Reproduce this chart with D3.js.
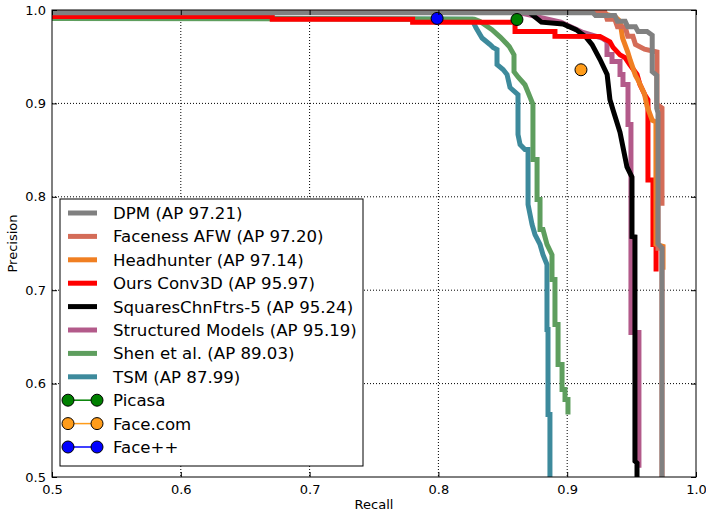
<!DOCTYPE html>
<html>
<head>
<meta charset="utf-8">
<script src="https://cdn.jsdelivr.net/npm/d3@7"></script>
<style>
  body { margin: 0; background: #fff; }
  text { font-family: "DejaVu Sans", sans-serif; }
</style>
</head>
<body>
<div id="chart"></div>
<script>
// chart size
var svgWidth = 706;
var svgHeight = 513;

var margin = { top: 10, right: 10, bottom: 36, left: 52 };
var chartWidth = svgWidth - margin.left - margin.right;
var chartHeight = svgHeight - margin.top - margin.bottom;

// series (recall / precision)
var seriesNames = ["DPM (AP 97.21)", "Faceness AFW (AP 97.20)", "Headhunter (AP 97.14)", "Ours Conv3D (AP 95.97)",
  "SquaresChnFtrs-5 (AP 95.24)", "Structured Models (AP 95.19)", "Shen et al. (AP 89.03)", "TSM (AP 87.99)"];
var seriesColors = ["#808080", "#d46c58", "#f07f22", "#ff0000", "#000000", "#b35a8a", "#5e9e5e", "#3d8a9c"];

var dpmRecall = [0.5, 0.92, 0.922, 0.937, 0.939, 0.945, 0.947, 0.953, 0.955, 0.962, 0.966, 0.966, 0.9695, 0.9695, 0.9705, 0.9705, 0.9736, 0.9736];
var dpmPrecision = [0.997, 0.997, 0.994, 0.994, 0.988, 0.988, 0.982, 0.982, 0.977, 0.977, 0.973, 0.934, 0.93, 0.895, 0.89, 0.75, 0.745, 0.5];

var facenessRecall = [0.5, 0.929, 0.931, 0.937, 0.939, 0.945, 0.947, 0.951, 0.953, 0.96, 0.9697, 0.9697, 0.9736, 0.9736, 0.9705, 0.9705, 0.9736, 0.9736];
var facenessPrecision = [0.999, 0.999, 0.99, 0.99, 0.982, 0.982, 0.972, 0.972, 0.963, 0.958, 0.955, 0.899, 0.895, 0.793, 0.793, 0.745, 0.745, 0.5];

var headhunterRecall = [0.5, 0.925, 0.931, 0.937, 0.941, 0.943, 0.947, 0.949, 0.953, 0.955, 0.96, 0.962, 0.966, 0.9689, 0.9689, 0.9744, 0.9744];
var headhunterPrecision = [0.999, 0.999, 0.995, 0.993, 0.988, 0.97, 0.955, 0.946, 0.93, 0.925, 0.91, 0.897, 0.882, 0.88, 0.749, 0.747, 0.722];

var oursRecall = [0.5, 0.671, 0.671, 0.78, 0.78, 0.8595, 0.8595, 0.8905, 0.8905, 0.9255, 0.9332, 0.9356, 0.941, 0.9449, 0.9488, 0.9542, 0.9565, 0.9604, 0.9627, 0.9627, 0.9666, 0.9666, 0.969, 0.969];
var oursPrecision = [0.993, 0.993, 0.99, 0.99, 0.987, 0.987, 0.977, 0.977, 0.972, 0.9716, 0.966, 0.96, 0.952, 0.949, 0.941, 0.931, 0.92, 0.909, 0.904, 0.818, 0.818, 0.749, 0.749, 0.72];

var squaresRecall = [0.5, 0.87, 0.88, 0.8967, 0.9068, 0.9146, 0.9193, 0.9255, 0.931, 0.9332, 0.9356, 0.941, 0.9464, 0.9503, 0.9503, 0.9526, 0.9526, 0.9542, 0.9542];
var squaresPrecision = [0.998, 0.998, 0.987, 0.985, 0.979, 0.971, 0.963, 0.947, 0.931, 0.904, 0.893, 0.869, 0.832, 0.821, 0.7575, 0.757, 0.517, 0.515, 0.5];

var structuredRecall = [0.5, 0.86, 0.895, 0.9123, 0.927, 0.9309, 0.9309, 0.9348, 0.9348, 0.941, 0.941, 0.9433, 0.9433, 0.9472, 0.9472, 0.9495, 0.9495, 0.9557, 0.9557];
var structuredPrecision = [0.998, 0.998, 0.987, 0.976, 0.97, 0.9663, 0.9524, 0.9524, 0.9449, 0.9449, 0.9309, 0.9309, 0.9202, 0.9202, 0.8774, 0.8774, 0.6547, 0.6547, 0.51];

var shenRecall = [0.5, 0.828, 0.8323, 0.8416, 0.848, 0.855, 0.8587, 0.8587, 0.862, 0.8672, 0.8696, 0.8734, 0.8734, 0.8766, 0.8766, 0.8789, 0.8789, 0.8812, 0.8843, 0.8882, 0.8882, 0.8905, 0.8905, 0.8929, 0.8929, 0.896, 0.896, 0.8983, 0.8983, 0.9006, 0.9006];
var shenPrecision = [0.991, 0.99, 0.9877, 0.979, 0.971, 0.961, 0.952, 0.934, 0.928, 0.92, 0.912, 0.899, 0.84, 0.84, 0.797, 0.797, 0.765, 0.765, 0.749, 0.738, 0.7115, 0.7115, 0.6632, 0.6632, 0.6204, 0.6204, 0.5937, 0.5937, 0.5829, 0.5829, 0.5669];

var tsmRecall = [0.5, 0.826, 0.8292, 0.8339, 0.84, 0.8424, 0.8455, 0.8455, 0.8502, 0.8533, 0.8556, 0.8618, 0.8618, 0.8634, 0.8672, 0.8696, 0.8696, 0.8727, 0.875, 0.8789, 0.8812, 0.8843, 0.8843, 0.8851, 0.8851, 0.8866, 0.8866];
var tsmPrecision = [0.992, 0.99, 0.981, 0.97, 0.9631, 0.96, 0.9577, 0.9416, 0.9363, 0.9309, 0.917, 0.9095, 0.8667, 0.856, 0.8506, 0.8506, 0.7918, 0.7704, 0.7596, 0.749, 0.738, 0.7275, 0.6579, 0.6579, 0.5669, 0.5669, 0.5];

// single-point detectors
var pointNames = ["Picasa", "Face.com", "Face++"];
var pointColors = ["#008000", "#ff9c1a", "#0000ff"];
var pointRecall = [0.861, 0.9107, 0.799];
var pointPrecision = [0.9898, 0.936, 0.991];

var xTicks = [0.5, 0.6, 0.7, 0.8, 0.9, 1.0];
var yTicks = [0.5, 0.6, 0.7, 0.8, 0.9, 1.0];

var allRecall = [dpmRecall, facenessRecall, headhunterRecall, oursRecall, squaresRecall, structuredRecall, shenRecall, tsmRecall];
var allPrecision = [dpmPrecision, facenessPrecision, headhunterPrecision, oursPrecision, squaresPrecision, structuredPrecision, shenPrecision, tsmPrecision];

var svg = d3.select("#chart")
  .append("svg")
  .attr("width", svgWidth)
  .attr("height", svgHeight);

var chartGroup = svg.append("g")
  .attr("transform", `translate(${margin.left}, ${margin.top})`);

var xScale = d3.scaleLinear().domain([0.5, 1.0]).range([0, chartWidth]);
var yScale = d3.scaleLinear().domain([0.5, 1.0]).range([chartHeight, 0]);

// grid
chartGroup.append("g")
  .selectAll("line")
  .data(xTicks.slice(1, -1))
  .enter()
  .append("line")
  .attr("x1", d => xScale(d)).attr("x2", d => xScale(d))
  .attr("y1", 0).attr("y2", chartHeight)
  .attr("stroke", "#000").attr("stroke-width", 1).attr("stroke-dasharray", "1,2");

chartGroup.append("g")
  .selectAll("line")
  .data(yTicks.slice(1, -1))
  .enter()
  .append("line")
  .attr("y1", d => yScale(d)).attr("y2", d => yScale(d))
  .attr("x1", 0).attr("x2", chartWidth)
  .attr("stroke", "#000").attr("stroke-width", 1).attr("stroke-dasharray", "1,2");

// clip for the curves
svg.append("defs").append("clipPath").attr("id", "plotClip")
  .append("rect").attr("width", chartWidth).attr("height", chartHeight);

var line = d3.line().x(d => xScale(d[0])).y(d => yScale(d[1]));

var curves = chartGroup.append("g").attr("clip-path", "url(#plotClip)");

// draw last series first so DPM ends on top
for (var i = seriesNames.length - 1; i >= 0; i--) {
  var pts = allRecall[i].map((r, j) => [r, allPrecision[i][j]]);
  curves.append("path")
    .datum(pts)
    .attr("d", line)
    .attr("fill", "none")
    .attr("stroke", seriesColors[i])
    .attr("stroke-width", 5)
    .attr("stroke-linejoin", "miter");
}

curves.selectAll("circle")
  .data(pointNames)
  .enter()
  .append("circle")
  .attr("cx", (d, i) => xScale(pointRecall[i]))
  .attr("cy", (d, i) => yScale(pointPrecision[i]))
  .attr("r", 6)
  .attr("fill", (d, i) => pointColors[i])
  .attr("stroke", "#000")
  .attr("stroke-width", 1);

// axes
var xAxis = d3.axisBottom(xScale).tickValues(xTicks).tickFormat(d3.format(".1f")).tickSize(-5).tickPadding(8);
var yAxis = d3.axisLeft(yScale).tickValues(yTicks).tickFormat(d3.format(".1f")).tickSize(-5).tickPadding(6);

var xg = chartGroup.append("g").attr("transform", `translate(0, ${chartHeight})`).call(xAxis);
var yg = chartGroup.append("g").call(yAxis);
chartGroup.append("g").call(d3.axisTop(xScale).tickValues(xTicks).tickFormat("").tickSize(-5));
chartGroup.append("g").attr("transform", `translate(${chartWidth}, 0)`)
  .call(d3.axisRight(yScale).tickValues(yTicks).tickFormat("").tickSize(-5));

chartGroup.selectAll(".domain").remove();
chartGroup.selectAll(".tick line").attr("stroke", "#000");
xg.selectAll("text").style("font-size", "13px").attr("fill", "#000");
yg.selectAll("text").style("font-size", "13px").attr("fill", "#000");

chartGroup.append("rect")
  .attr("width", chartWidth).attr("height", chartHeight)
  .attr("fill", "none").attr("stroke", "#000").attr("stroke-width", 1);

// axis labels
svg.append("text")
  .attr("transform", `translate(17, ${margin.top + chartHeight / 2}) rotate(-90)`)
  .attr("text-anchor", "middle")
  .style("font-size", "13px")
  .text("Precision");

svg.append("text")
  .attr("x", margin.left + chartWidth / 2)
  .attr("y", 509)
  .attr("text-anchor", "middle")
  .style("font-size", "13px")
  .text("Recall");

// legend
var legend = svg.append("g").attr("transform", "translate(60, 199)");
var rowH = 23.4;

legend.append("rect")
  .attr("width", 303).attr("height", 267)
  .attr("fill", "#fff").attr("stroke", "#000").attr("stroke-width", 1);

var legendNames = seriesNames.concat(pointNames);

legendNames.forEach(function(name, i) {
  var cy = 14 + i * rowH;
  if (i < seriesNames.length) {
    legend.append("line")
      .attr("x1", 8).attr("x2", 37).attr("y1", cy).attr("y2", cy)
      .attr("stroke", seriesColors[i]).attr("stroke-width", 5);
  } else {
    var c = pointColors[i - seriesNames.length];
    legend.append("line")
      .attr("x1", 8).attr("x2", 37).attr("y1", cy).attr("y2", cy)
      .attr("stroke", c).attr("stroke-width", 1.5);
    [8, 37].forEach(function(px) {
      legend.append("circle")
        .attr("cx", px).attr("cy", cy).attr("r", 6)
        .attr("fill", c).attr("stroke", "#000").attr("stroke-width", 1);
    });
  }
  legend.append("text")
    .attr("x", 53).attr("y", cy + 6)
    .style("font-size", "16.6px")
    .text(name);
});
</script>
</body>
</html>
